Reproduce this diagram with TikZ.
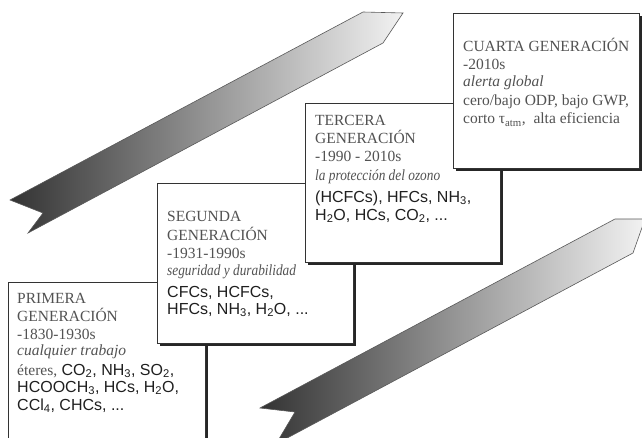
\documentclass[tikz,border=0pt]{standalone}
\usepackage{fontspec}
\setmainfont{Liberation Serif}
\newfontfamily\sansfam{Liberation Sans}
\usetikzlibrary{shadows}
\pgfdeclarehorizontalshading{ribshade}{100bp}{color(0bp)=(black!82); color(25bp)=(black!80); color(50bp)=(black!42); color(75bp)=(black!5); color(100bp)=(black!5)}
\begin{document}
\begin{tikzpicture}[x=1pt,y=1pt,
  genbox/.style={draw=black!80, line width=0.9pt, fill=white, inner sep=0pt, anchor=north west,
     drop shadow={shadow xshift=3pt, shadow yshift=-3pt, opacity=1, fill=black!85}},
  serifline/.style={font=\fontsize{15.5}{18}\selectfont, text=black!68, inner sep=0pt, anchor=base west},
  italine/.style={font=\fontsize{15.5}{18}\selectfont\itshape, text=black!68, inner sep=0pt, anchor=base west},
  sansline/.style={font=\fontsize{16}{17}\selectfont\sansfam, text=black!88, inner sep=0pt, anchor=base west},
  ribbon/.style={draw=black!65, line width=0.6pt, shading=ribshade}
]
\clip (0,0) rectangle (642,437);
\fill[white] (0,0) rectangle (642,437);
% ribbons
\path[ribbon] (10,237) -- (43,224) -- (28,204) -- (383,394) -- (403,424) -- (363,425) -- cycle;
\path[ribbon] (260,29) -- (295,25) -- (276,-7) -- (633,184) -- (645,218) -- (615,218) -- cycle;
% boxes
\node[genbox, minimum width=197, minimum height=190] (p) at (8,155) {};
\node[genbox, minimum width=196, minimum height=160] (s) at (157,254) {};
\node[genbox, minimum width=195, minimum height=159] (t) at (305,334) {};
\node[genbox, minimum width=186, minimum height=155] (c) at (453,424) {};
% Primera
\node[serifline] (p1) at (17,134) {PRIMERA};
\node[serifline] (p2) at (17,116) {GENERACIÓN};
\node[serifline] (p3) at (17,98) {-1830-1930s};
\node[italine] (p4) at (17,82) {cualquier trabajo};
\node[sansline] (p5) at (17,62) {{\rmfamily\fontsize{15.5}{18}\selectfont\color{black!68}éteres,} CO\textsubscript{2}, NH\textsubscript{3}, SO\textsubscript{2},};
\node[sansline] (p6) at (17,45) {HCOOCH\textsubscript{3}, HCs, H\textsubscript{2}O,};
\node[sansline] (p7) at (17,27) {CCl\textsubscript{4}, CHCs, ...};
% Segunda
\node[serifline] (s1) at (167,215) {SEGUNDA};
\node[serifline] (s2) at (167,197) {GENERACIÓN};
\node[serifline] (s3) at (167,179) {-1931-1990s};
\node[italine] (s4) at (167,162) {\scalebox{0.86}[1]{seguridad y durabilidad}};
\node[sansline] (s5) at (167,140) {CFCs, HCFCs,};
\node[sansline] (s6) at (167,123) {HFCs, NH\textsubscript{3}, H\textsubscript{2}O, ...};
% Tercera
\node[serifline] (t1) at (315,311) {TERCERA};
\node[serifline] (t2) at (315,293) {GENERACIÓN};
\node[serifline] (t3) at (315,275) {-1990 - 2010s};
\node[italine] (t4) at (315,256) {\scalebox{0.86}[1]{la protección del ozono}};
\node[sansline] (t5) at (315,235) {(HCFCs), HFCs, NH\textsubscript{3},};
\node[sansline] (t6) at (315,217) {H\textsubscript{2}O, HCs, CO\textsubscript{2}, ...};
% Cuarta
\node[serifline] (c1) at (463,385) {CUARTA GENERACIÓN};
\node[serifline] (c2) at (463,367) {-2010s};
\node[italine] (c3) at (463,350) {alerta global};
\node[serifline] (c4) at (463,331) {cero/bajo ODP, bajo GWP,};
\node[serifline] (c5) at (463,313) {corto τ\textsubscript{atm},\ \ alta eficiencia};
\end{tikzpicture}
\end{document}
